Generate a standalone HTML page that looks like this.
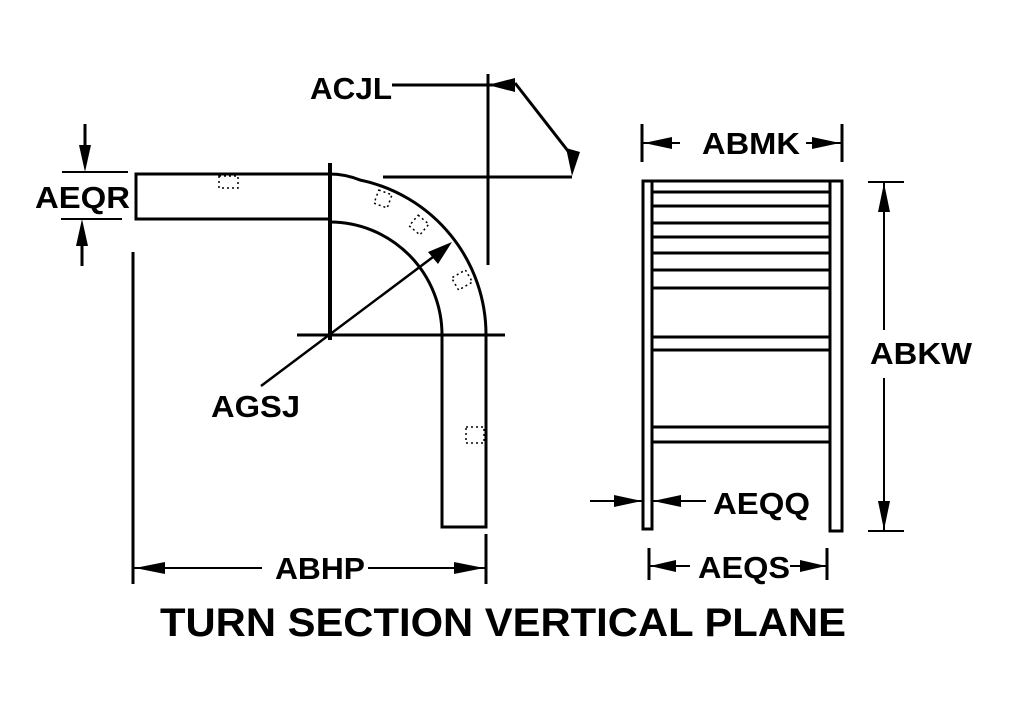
<!DOCTYPE html>
<html><head><meta charset="utf-8"><style>
html,body{margin:0;padding:0;background:#fff;}
svg{display:block;}
text{font-family:"Liberation Sans",Arial,sans-serif;font-weight:bold;fill:#000;}
</style></head><body>
<svg width="1012" height="716" viewBox="0 0 1012 716" xmlns="http://www.w3.org/2000/svg">
<g stroke="#000" stroke-width="3" fill="none">
<path d="M330,174 L136,174 L136,219 L330,219"/>
<path d="M330,174 Q345,174 360,180 A158,158 0 0 1 486,335"/>
<path d="M330,222 A112,113 0 0 1 442,335"/>
<path d="M442,335 L442,527 L486,527 L486,335"/>
<line x1="330" y1="163" x2="330" y2="340" stroke-width="4"/>
<line x1="297" y1="335" x2="505" y2="335"/>
<line x1="392" y1="85" x2="515" y2="85"/>
<line x1="488" y1="74" x2="488" y2="265"/>
<line x1="383" y1="177" x2="572" y2="177"/>
<line x1="515" y1="83" x2="575" y2="160"/>
<line x1="261" y1="386" x2="445" y2="248" stroke-width="2.5"/>
<line x1="62" y1="172" x2="128" y2="172" stroke-width="2"/>
<line x1="61" y1="219" x2="122" y2="219" stroke-width="2"/>
<line x1="85" y1="124" x2="85" y2="160"/>
<line x1="82" y1="230" x2="82" y2="266"/>
<line x1="133" y1="252" x2="133" y2="584"/>
<line x1="486" y1="534" x2="486" y2="584"/>
<line x1="133" y1="568" x2="262" y2="568" stroke-width="2"/>
<line x1="368" y1="568" x2="486" y2="568" stroke-width="2"/>
<rect x="643" y="181" width="9" height="348"/>
<rect x="830" y="181" width="12" height="350"/>
<g stroke-width="3">
<line x1="652" y1="192" x2="830" y2="192"/>
<line x1="652" y1="206" x2="830" y2="206"/>
<line x1="652" y1="223" x2="830" y2="223"/>
<line x1="652" y1="237" x2="830" y2="237"/>
<line x1="652" y1="253" x2="830" y2="253"/>
<line x1="652" y1="270" x2="830" y2="270"/>
<line x1="652" y1="288" x2="830" y2="288"/>
<line x1="652" y1="337" x2="830" y2="337"/>
<line x1="652" y1="350" x2="830" y2="350"/>
<line x1="652" y1="427" x2="830" y2="427"/>
<line x1="652" y1="442" x2="830" y2="442"/>
<line x1="652" y1="181" x2="830" y2="181"/>
</g>
<line x1="642" y1="124" x2="642" y2="162"/>
<line x1="842" y1="124" x2="842" y2="162"/>
<line x1="642" y1="143" x2="680" y2="143" stroke-width="2"/>
<line x1="806" y1="143" x2="842" y2="143" stroke-width="2"/>
<line x1="868" y1="182" x2="904" y2="182" stroke-width="2"/>
<line x1="868" y1="531" x2="904" y2="531" stroke-width="2"/>
<line x1="884" y1="182" x2="884" y2="330" stroke-width="2"/>
<line x1="884" y1="378" x2="884" y2="531" stroke-width="2"/>
<line x1="590" y1="501" x2="642" y2="501" stroke-width="2"/>
<line x1="652" y1="501" x2="706" y2="501" stroke-width="2"/>
<line x1="649" y1="548" x2="649" y2="580"/>
<line x1="827" y1="548" x2="827" y2="580"/>
<line x1="649" y1="566" x2="690" y2="566" stroke-width="2"/>
<line x1="790" y1="566" x2="827" y2="566" stroke-width="2"/>
</g>
<g stroke="#000" stroke-width="1.5" fill="none" stroke-dasharray="2,3">
<rect x="219" y="176" width="19" height="12"/>
<rect x="376" y="192" width="14" height="14" transform="rotate(20 383 199)"/>
<rect x="412" y="218" width="14" height="14" transform="rotate(40 419 225)"/>
<rect x="455" y="272" width="14" height="16" transform="rotate(60 462 280)"/>
<rect x="466" y="427" width="18" height="16"/>
</g>
<g fill="#000">
<polygon points="488,85 515,78 515,92"/>
<polygon points="572,176 566,148 580,152"/>
<polygon points="452,242 428,252 438,264"/>
<polygon points="85,172 79,145 91,145"/>
<polygon points="82,219 76,246 88,246"/>
<polygon points="135,568 165,562 165,574"/>
<polygon points="484,568 454,562 454,574"/>
<polygon points="644,143 672,137 672,149"/>
<polygon points="840,143 812,137 812,149"/>
<polygon points="884,183 878,212 890,212"/>
<polygon points="884,530 878,501 890,501"/>
<polygon points="642,501 614,495 614,507"/>
<polygon points="653,501 681,495 681,507"/>
<polygon points="650,566 676,560 676,572"/>
<polygon points="826,566 800,560 800,572"/>
</g>
<g font-size="31" lengthAdjust="spacingAndGlyphs">
<text x="310" y="99" textLength="82" lengthAdjust="spacingAndGlyphs">ACJL</text>
<text x="35" y="208" textLength="95" lengthAdjust="spacingAndGlyphs">AEQR</text>
<text x="211" y="417" textLength="89" lengthAdjust="spacingAndGlyphs">AGSJ</text>
<text x="275" y="579" textLength="90" lengthAdjust="spacingAndGlyphs">ABHP</text>
<text x="702" y="154" textLength="98" lengthAdjust="spacingAndGlyphs">ABMK</text>
<text x="870" y="364" textLength="102" lengthAdjust="spacingAndGlyphs">ABKW</text>
<text x="713" y="514" textLength="97" lengthAdjust="spacingAndGlyphs">AEQQ</text>
<text x="698" y="578" textLength="92" lengthAdjust="spacingAndGlyphs">AEQS</text>
</g>
<text x="160" y="636" font-size="40" textLength="686" lengthAdjust="spacingAndGlyphs">TURN SECTION VERTICAL PLANE</text>
</svg>
</body></html>
